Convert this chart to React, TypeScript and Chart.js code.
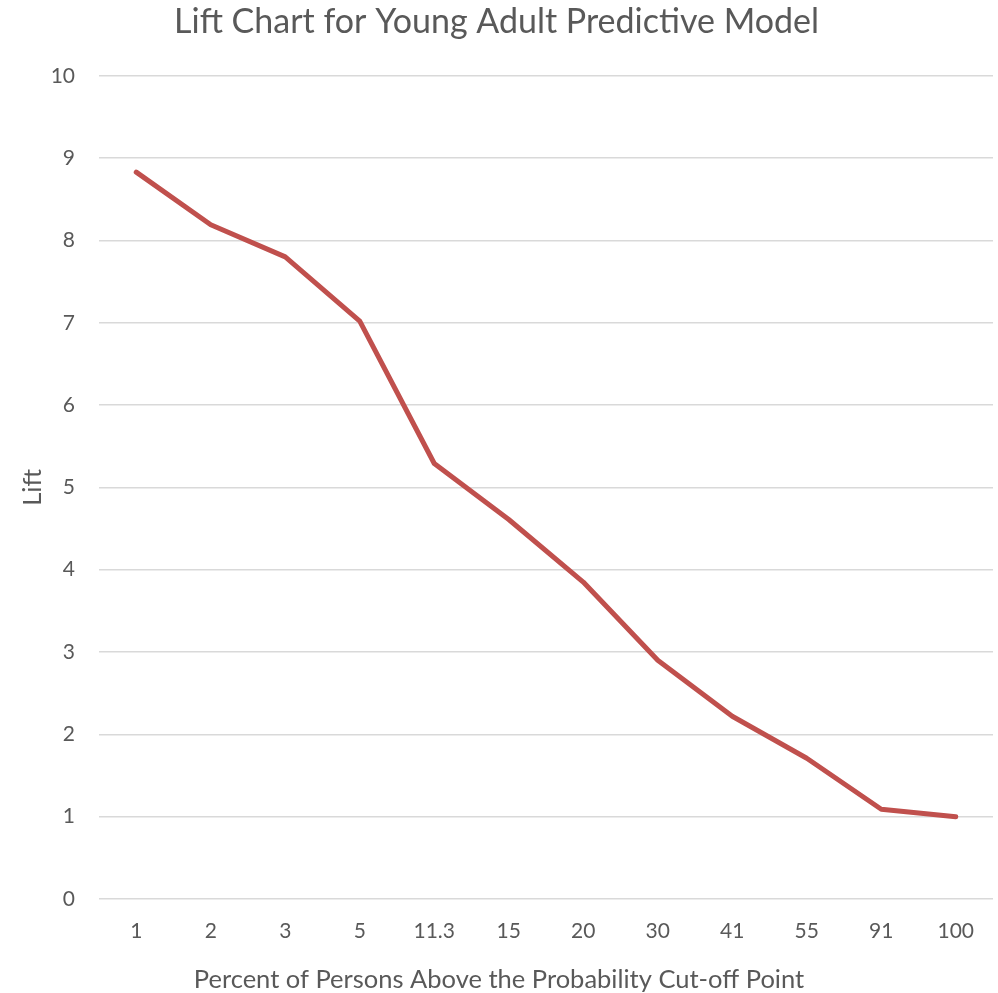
import React, { useEffect, useRef } from "react";
import { Chart, registerables } from "chart.js";

Chart.register(...registerables);

const categories = ["1", "2", "3", "5", "11.3", "15", "20", "30", "41", "55", "91", "100"];
const liftValues = [8.83, 8.19, 7.8, 7.02, 5.29, 4.61, 3.85, 2.9, 2.22, 1.71, 1.09, 1.0];
const yTicks = [0, 1, 2, 3, 4, 5, 6, 7, 8, 9, 10];
const chartTitle = "Lift Chart for Young Adult Predictive Model";
const xTitle = "Percent of Persons Above the Probability Cut-off Point";
const yTitle = "Lift";

const FONT = "Lato, 'Open Sans', sans-serif";
const TEXT = "#595959";

const xTitlePlugin = {
  id: "xTitleCentered",
  afterDraw(chart: any) {
    const ctx = chart.ctx;
    ctx.save();
    ctx.fillStyle = TEXT;
    ctx.font = `25.5px ${FONT}`;
    ctx.textAlign = "center";
    ctx.textBaseline = "middle";
    ctx.fillText(xTitle, chart.width / 2, 980);
    ctx.restore();
  },
};

export default function App() {
  const ref = useRef<HTMLCanvasElement>(null);
  useEffect(() => {
    document.body.style.margin = "0";
    const chart = new Chart(ref.current!, {
      type: "line",
      data: {
        labels: categories,
        datasets: [
          {
            label: yTitle,
            data: liftValues,
            borderColor: "#C0504D",
            borderWidth: 5,
            pointRadius: 0,
            tension: 0,
            borderCapStyle: "round",
            borderJoinStyle: "round",
          },
        ],
      },
      plugins: [xTitlePlugin],
      options: {
        animation: false,
        responsive: false,
        layout: { padding: { left: 0, right: 5, top: 0, bottom: 0 } },
        plugins: {
          legend: { display: false },
          tooltip: { enabled: false },
          title: {
            display: true,
            text: chartTitle,
            color: TEXT,
            font: { family: FONT, size: 34, weight: "normal", lineHeight: 1.2 },
            padding: { top: 2, bottom: 33 },
          },
        },
        scales: {
          x: {
            offset: true,
            grid: { display: false, drawTicks: false },
            border: { display: false },
            ticks: { color: TEXT, font: { family: FONT, size: 21 }, padding: 20, maxRotation: 0 },
            afterFit: (axis: any) => {
              axis.height = 94;
            },
          },
          y: {
            min: 0,
            max: 10,
            afterBuildTicks: (axis: any) => {
              axis.ticks = yTicks.map((v) => ({ value: v }));
            },
            afterFit: (axis: any) => {
              axis.width = 99;
            },
            grid: { color: "#d9d9d9", lineWidth: 1.5, drawTicks: false },
            border: { display: false },
            ticks: { color: TEXT, font: { family: FONT, size: 21 }, padding: 24 },
            title: {
              display: true,
              text: yTitle,
              color: TEXT,
              font: { family: FONT, size: 25.5, lineHeight: 1.2 },
              padding: { top: 17, bottom: 0 },
            },
          },
        },
      },
    });
    return () => chart.destroy();
  }, []);
  return (
    <div style={{ width: 998, height: 993, background: "#fff" }}>
      <canvas ref={ref} width={998} height={993} />
    </div>
  );
}
